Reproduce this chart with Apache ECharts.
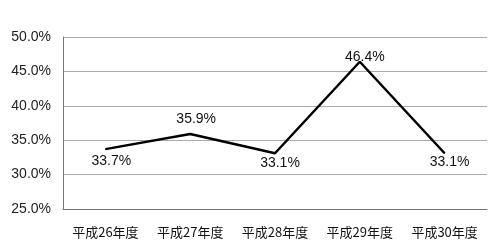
<!DOCTYPE html>
<html><head><meta charset="utf-8">
<script src="https://cdn.jsdelivr.net/npm/echarts@6/dist/echarts.min.js"></script>
<style>html,body{margin:0;padding:0;background:#fff}#c{width:500px;height:247px}</style>
</head><body><div id="c"></div>
<script>
const categories = ['平成26年度','平成27年度','平成28年度','平成29年度','平成30年度'];
const values = [33.7, 35.9, 33.1, 46.4, 33.1];
const yTicks = [25, 30, 35, 40, 45, 50];

// label placement (style only): offset of label centre from point
const labelOffsets = [[6, 12], [6, -15], [5, 10], [5, -5], [5, 9]];

const chart = echarts.init(document.getElementById('c'), null, {renderer:'canvas'});
const cjk = '"Noto Sans CJK JP", "Liberation Sans", sans-serif';
const lat = '"Liberation Sans", sans-serif';
chart.setOption({
  animation:false,
  grid:{left:63,right:13,top:37,bottom:38},
  xAxis:{type:'category',data:categories,boundaryGap:true,
    axisLine:{lineStyle:{color:'#777',width:1}},axisTick:{show:false},
    axisLabel:{interval:0,color:'#111',fontSize:13,fontFamily:cjk,margin:17}},
  yAxis:{type:'value',min:yTicks[0],max:yTicks[yTicks.length-1],interval:5,
    axisLine:{show:true,lineStyle:{color:'#777',width:1}},axisTick:{show:false},
    splitLine:{lineStyle:{color:'#aaa',width:1}},
    axisLabel:{color:'#222',fontSize:14,fontFamily:lat,margin:12,formatter:v=>v.toFixed(1)+'%'}},
  series:[{type:'line',data:values.map((v,i)=>({value:v,label:{position:'inside',offset:labelOffsets[i]}})),
    symbol:'circle',symbolSize:1,showSymbol:true,itemStyle:{color:'#000'},
    lineStyle:{color:'#000',width:2.5},
    label:{show:true,color:'#111',fontSize:14,fontFamily:lat,formatter:p=>p.value.toFixed(1)+'%'}}]
});
</script></body></html>
